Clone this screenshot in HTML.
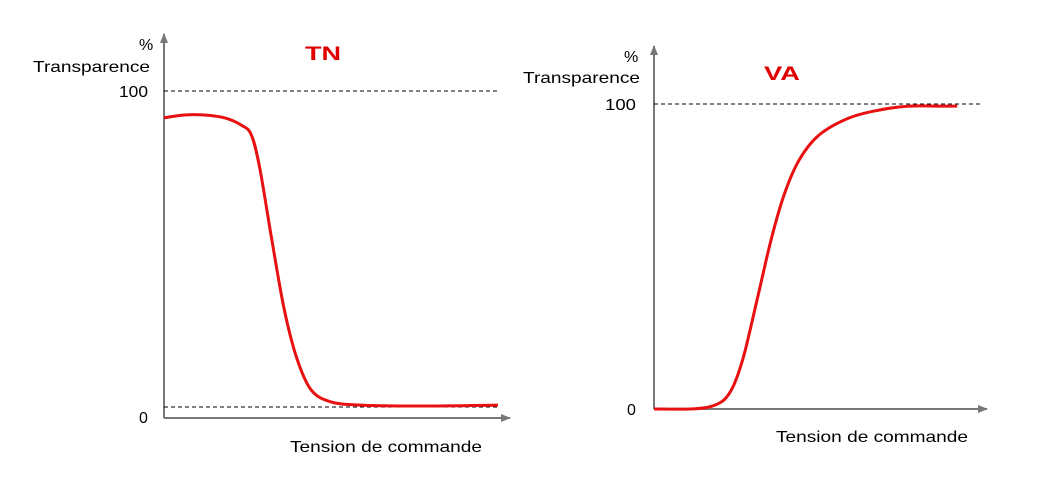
<!DOCTYPE html>
<html><head><meta charset="utf-8"><style>
body{margin:0;background:#fff;}
svg{display:block;font-family:"Liberation Sans",sans-serif;}
</style></head><body>
<svg id="c" width="1056" height="496">
<defs>
<marker id="ar" viewBox="0 0 10 10" refX="9" refY="5" markerWidth="10" markerHeight="10" markerUnits="userSpaceOnUse" orient="auto"><path d="M0,1 L10,5 L0,9 z" fill="#777"/></marker>
</defs>
<g>
<line x1="164" y1="418" x2="164" y2="34" stroke="#777" stroke-width="2" marker-end="url(#ar)"/>
<line x1="164" y1="418" x2="510" y2="418" stroke="#777" stroke-width="2" marker-end="url(#ar)"/>
<line x1="164" y1="91" x2="500" y2="91" stroke="#000" stroke-dasharray="4,3"/>
<line x1="164" y1="407" x2="500" y2="407" stroke="#000" stroke-dasharray="4,3"/>
<text x="139" y="50" font-size="16" textLength="13">%</text>
<text x="33" y="72" font-size="16" textLength="117" lengthAdjust="spacingAndGlyphs">Transparence</text>
<text x="119" y="97" font-size="16" textLength="29" lengthAdjust="spacingAndGlyphs">100</text>
<text x="139" y="423" font-size="16">0</text>
<text x="305" y="60" font-size="19" font-weight="bold" fill="#e00000" textLength="36" lengthAdjust="spacingAndGlyphs">TN</text>
<text x="290" y="452" font-size="16" textLength="192" lengthAdjust="spacingAndGlyphs">Tension de commande</text>
<path id="tn" fill="none" stroke="#e81010" stroke-width="3"/>
</g>
<g>
<line x1="654" y1="409" x2="654" y2="46" stroke="#777" stroke-width="2" marker-end="url(#ar)"/>
<line x1="654" y1="409" x2="987" y2="409" stroke="#777" stroke-width="2" marker-end="url(#ar)"/>
<line x1="654" y1="104" x2="980" y2="104" stroke="#000" stroke-dasharray="4,3"/>
<text x="624" y="62" font-size="16" textLength="13">%</text>
<text x="523" y="83" font-size="16" textLength="117" lengthAdjust="spacingAndGlyphs">Transparence</text>
<text x="605" y="110" font-size="16" textLength="31" lengthAdjust="spacingAndGlyphs">100</text>
<text x="627" y="415" font-size="16">0</text>
<text x="764" y="80" font-size="19" font-weight="bold" fill="#e00000" textLength="36" lengthAdjust="spacingAndGlyphs">VA</text>
<text x="776" y="442" font-size="16" textLength="192" lengthAdjust="spacingAndGlyphs">Tension de commande</text>
<path id="va" fill="none" stroke="#e81010" stroke-width="3"/>
</g>
</svg>
<script>
// x: 0-100 along axis, y: transparency %
const tnX=[0,6,12,18,23,26,28.5,32,35.7,39.5,43.8,49.7,58.6,76.5,99.4];
const tnY=[91.5,92.4,92.4,91.5,89.2,86.1,75.6,53.5,31.3,15.5,5.4,1.6,0.6,0.3,0.6];
const vaX=[0,11,17,21.5,24.5,27.6,31.6,35.9,39.9,44.5,50.6,59.8,69,78.2,87.4,93];
const vaY=[0,0,0.7,3,7.9,17.7,35.7,55.4,70.2,81.6,89.8,95.4,98,99.3,99.3,99.3];
function scaler(x0,x1,y0,y100){return [v=>x0+v/100*(x1-x0), v=>y0+(y100-y0)*v/100];}
function path(xs,ys,sx,sy){
  const p=xs.map((x,i)=>[sx(x),sy(ys[i])]);
  let d="M"+p[0][0]+","+p[0][1];
  for(let i=0;i<p.length-1;i++){
    const a=p[i-1]||p[i],b=p[i],c=p[i+1],e=p[i+2]||c;
    const c1=[b[0]+(c[0]-a[0])/6,b[1]+(c[1]-a[1])/6],c2=[c[0]-(e[0]-b[0])/6,c[1]-(e[1]-b[1])/6];
    d+=" C"+c1+" "+c2+" "+c;
  }
  return d;
}
const [tx,ty]=scaler(164,500,407,91);
document.getElementById('tn').setAttribute('d',path(tnX,tnY,tx,ty));
const [vx,vy]=scaler(654,980,409,104);
document.getElementById('va').setAttribute('d',path(vaX,vaY,vx,vy));
</script>
</body></html>
